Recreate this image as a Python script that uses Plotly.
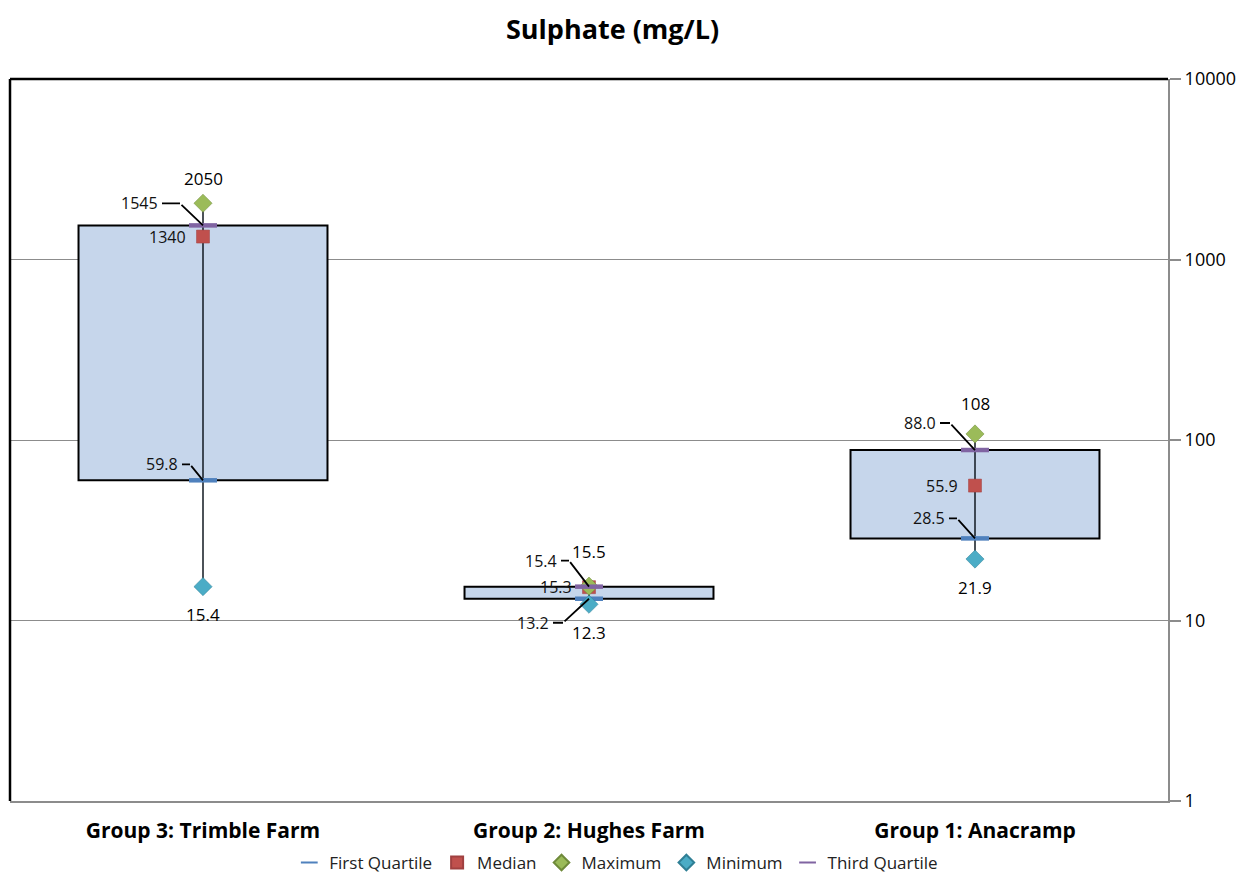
import numpy as np
import plotly.graph_objects as go

# Sulphate concentration summary statistics per sampling group (mg/L)
groups = ["Group 3: Trimble Farm", "Group 2: Hughes Farm", "Group 1: Anacramp"]
first_quartile = [59.8, 13.2, 28.5]
median = [1340, 15.3, 55.9]
maximum = [2050, 15.5, 108]
minimum = [15.4, 12.3, 21.9]
third_quartile = [1545, 15.4, 88.0]

max_labels = ["2050", "15.5", "108"]
min_labels = ["15.4", "12.3", "21.9"]
median_labels = ["1340", "15.3", "55.9"]
q1_labels = ["59.8", "13.2", "28.5"]
q3_labels = ["1545", "15.4", "88.0"]

FONT = "'Open Sans', sans-serif"
C_Q1 = "#4f81bd"
C_MED = "#c0504d"
C_MAX = "#9bbb59"
C_MIN = "#4bacc6"
C_Q3 = "#8064a2"

fig = go.Figure()

# interquartile box
fig.add_trace(go.Bar(
    x=groups,
    base=first_quartile,
    y=[q3 - q1 for q1, q3 in zip(first_quartile, third_quartile)],
    width=0.645,
    marker=dict(color="#c6d6eb", line=dict(color="black", width=2)),
    showlegend=False,
    hoverinfo="skip",
))

# whiskers from minimum to maximum
wx, wy = [], []
for g, lo, hi in zip(groups, minimum, maximum):
    wx += [g, g, None]
    wy += [lo, hi, None]
fig.add_trace(go.Scatter(x=wx, y=wy, mode="lines",
                         line=dict(color="#101820", width=1.5),
                         showlegend=False, hoverinfo="skip"))


def stat_trace(name, vals, symbol, color, size, lw=0, lcolor=None):
    return go.Scatter(
        x=groups, y=vals, mode="markers", name=name,
        marker=dict(symbol=symbol, size=size, color=color,
                    line=dict(width=lw, color=lcolor or color)),
    )


fig.add_trace(stat_trace("First Quartile", first_quartile, "line-ew", C_Q1, 20, 4.5))
fig.add_trace(stat_trace("Median", median, "square", C_MED, 13, 0.5, "#a04040"))
fig.add_trace(stat_trace("Maximum", maximum, "diamond", C_MAX, 14, 0.5, "#6f8a3a"))
fig.add_trace(stat_trace("Minimum", minimum, "diamond", C_MIN, 14, 0.5, "#2f7f95"))
fig.add_trace(stat_trace("Third Quartile", third_quartile, "line-ew", C_Q3, 20, 4.5))

ann = []
lab_font = dict(family=FONT, size=17, color="black")
small_font = dict(family=FONT, size=16, color="#111")
max_shift = [25, 35, 30]
for i, g in enumerate(groups):
    ann.append(dict(x=g, y=np.log10(maximum[i]), text=max_labels[i], showarrow=False,
                    yshift=max_shift[i], font=lab_font))
    ann.append(dict(x=g, y=np.log10(minimum[i]), text=min_labels[i], showarrow=False,
                    yshift=-28, font=lab_font))
    ann.append(dict(x=g, y=np.log10(median[i]), text=median_labels[i], showarrow=False,
                    xanchor="right", xshift=-15, font=small_font))

# quartile labels with bent leader lines: (bend dx, bend dy, horizontal run) in px
q3_leader = [(-23, 22, 18), (-20, 26, 8), (-25, 27, 10)]
q1_leader = [(-13, 16, 8), (-26, -24, 10), (-18, 20, 8)]
for i, g in enumerate(groups):
    for val, txt, (bx, by, run) in ((third_quartile[i], q3_labels[i], q3_leader[i]),
                                     (first_quartile[i], q1_labels[i], q1_leader[i])):
        y = np.log10(val)
        # horizontal segment ending at the bend, with the label at its tail
        ann.append(dict(x=g, y=y, xshift=bx, yshift=by, text=txt, showarrow=True,
                        arrowhead=0, arrowwidth=1.8, arrowcolor="black",
                        ax=-run, ay=0, xanchor="right", standoff=0, borderpad=3,
                        font=small_font))
        # diagonal segment from the bend to the marker
        ann.append(dict(x=g, y=y, text="", showarrow=True,
                        arrowhead=0, arrowwidth=1.8, arrowcolor="black",
                        ax=bx, ay=-by, standoff=0))

fig.update_layout(
    width=1240, height=877,
    margin=dict(l=10, r=72, t=79, b=76, autoexpand=False),
    paper_bgcolor="white", plot_bgcolor="white",
    title=dict(text="<b>Sulphate (mg/L)</b>", x=0.494, xref="container",
               y=0.966, yanchor="middle",
               font=dict(family=FONT, size=27, color="black")),
    font=dict(family=FONT, color="black"),
    annotations=ann,
    legend=dict(orientation="h", xref="container", x=0.497, xanchor="center",
                yref="container", y=0.016, yanchor="middle",
                font=dict(family=FONT, size=17, color="#222"),
                itemsizing="constant", itemwidth=30, traceorder="normal"),
    xaxis=dict(showgrid=False, showline=True, linecolor="#8c8c8c", linewidth=2,
               ticks="", tickfont=dict(family=FONT, size=21, color="black"),
               ticklabelstandoff=10,
               tickvals=groups, ticktext=[f"<b>{g}</b>" for g in groups]),
    yaxis=dict(type="log", range=[0, 4], side="right",
               tickvals=[1, 10, 100, 1000, 10000],
               ticktext=["1", "10", "100", "1000", "10000"],
               showgrid=True, gridcolor="#8c8c8c", gridwidth=1.3,
               showline=True, linecolor="#8c8c8c", linewidth=2,
               ticks="outside", ticklen=11, tickcolor="#8c8c8c", tickwidth=1.5,
               tickfont=dict(family=FONT, size=18, color="black"),
               zeroline=False),
    shapes=[
        dict(type="line", xref="paper", yref="paper", x0=0, x1=0, y0=0, y1=1,
             line=dict(color="black", width=2.5)),
        dict(type="line", xref="paper", yref="paper", x0=0, x1=1, y0=1, y1=1,
             line=dict(color="black", width=2.5)),
    ],
)

fig.write_html("out.html")
